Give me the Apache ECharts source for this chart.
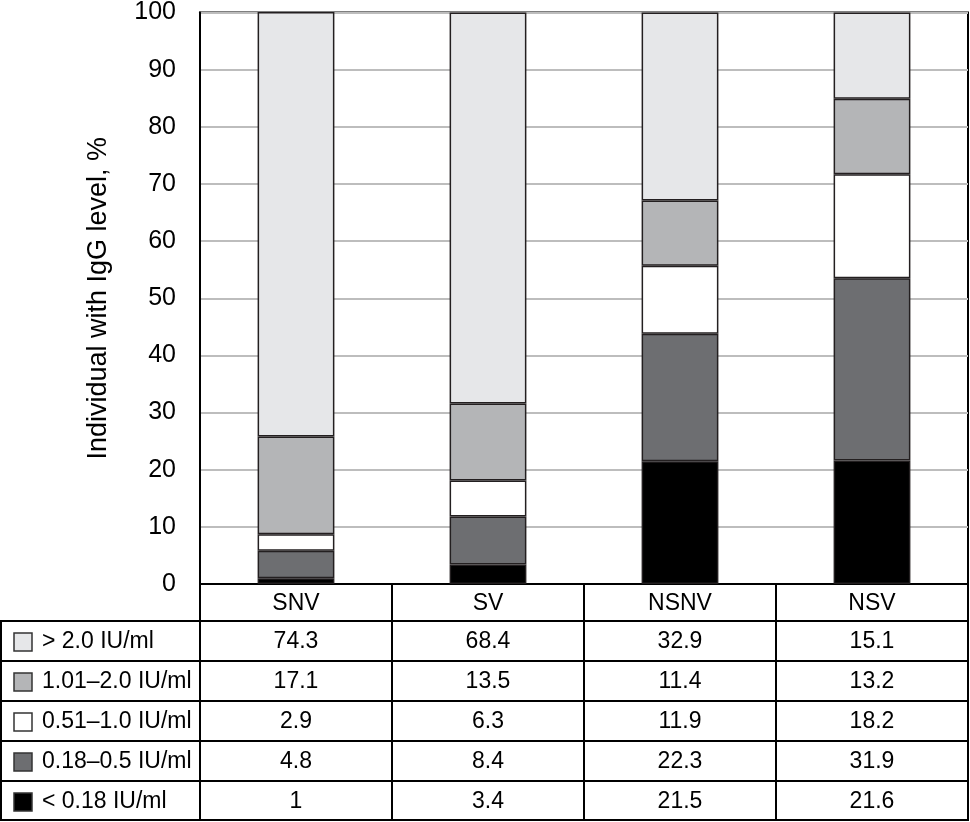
<!DOCTYPE html>
<html>
<head>
<meta charset="utf-8">
<script src="https://cdn.jsdelivr.net/npm/echarts@6/dist/echarts.min.js"></script>
<style>
html,body{margin:0;padding:0;background:#fff;}
#chart{width:970px;height:822px;}
</style>
</head>
<body>
<div id="chart"></div>
<script>
var categories = ['SNV', 'SV', 'NSNV', 'NSV'];
var levels = ['> 2.0 IU/ml', '1.01\u20132.0 IU/ml', '0.51\u20131.0 IU/ml', '0.18\u20130.5 IU/ml', '< 0.18 IU/ml'];
var gt20 = [74.3, 68.4, 32.9, 15.1];
var r101to20 = [17.1, 13.5, 11.4, 13.2];
var r051to10 = [2.9, 6.3, 11.9, 18.2];
var r018to05 = [4.8, 8.4, 22.3, 31.9];
var lt018 = [1, 3.4, 21.5, 21.6];
var yTicks = [0, 10, 20, 30, 40, 50, 60, 70, 80, 90, 100];

var levelValues = [gt20, r101to20, r051to10, r018to05, lt018];
var levelColors = ['#e6e7e9', '#b4b5b7', '#ffffff', '#6d6e71', '#000000'];

var FONT = "'Liberation Sans', Arial, sans-serif";
var gridLeft = 200, gridTop = 11, gridRight = 2, gridBottomY = 584;
var W = 970, H = 822;
var gridWidth = W - gridLeft - gridRight;
var colW = gridWidth / categories.length;
var rowTop = 621, rowH = 40;
var tableBottom = 820;

var chart = echarts.init(document.getElementById('chart'), null, {renderer: 'canvas'});

// series: stack bottom to top
var series = [];
for (var i = levels.length - 1; i >= 0; i--) {
  series.push({
    name: levels[i],
    type: 'bar',
    stack: 'total',
    barWidth: '40%',
    data: levelValues[i],
    itemStyle: {color: levelColors[i], borderColor: '#231f20', borderWidth: 1.5},
    emphasis: {disabled: true}
  });
}

// table graphics
var graphic = [];
var lineStyle = {stroke: '#000', lineWidth: 2};
// horizontal lines
for (var r = 0; r <= levels.length; r++) {
  var y = (r === levels.length) ? tableBottom : rowTop + r * rowH;
  graphic.push({type: 'line', shape: {x1: 0, y1: y, x2: W - gridRight + 1, y2: y}, style: lineStyle});
}
// left border
graphic.push({type: 'line', shape: {x1: 1, y1: rowTop, x2: 1, y2: tableBottom + 1}, style: lineStyle});
// vertical column lines
for (var c = 0; c <= categories.length; c++) {
  var x = gridLeft + c * colW;
  graphic.push({type: 'line', shape: {x1: x, y1: gridBottomY, x2: x, y2: tableBottom + 1}, style: lineStyle});
}
// row labels and values
for (var r2 = 0; r2 < levels.length; r2++) {
  var cy = rowTop + r2 * rowH + rowH / 2 + 1;
  graphic.push({type: 'rect', shape: {x: 14, y: cy - 9, width: 18, height: 18},
    style: {fill: levelColors[r2], stroke: '#333', lineWidth: 1.5}});
  graphic.push({type: 'text', style: {text: levels[r2], x: 42, y: cy, align: 'left', verticalAlign: 'middle',
    font: '23px ' + FONT, fill: '#000'}});
  for (var c2 = 0; c2 < categories.length; c2++) {
    graphic.push({type: 'text', style: {text: String(levelValues[r2][c2]), x: gridLeft + (c2 + 0.5) * colW, y: cy,
      align: 'center', verticalAlign: 'middle', font: '23px ' + FONT, fill: '#000'}});
  }
}

var option = {
  animation: false,
  backgroundColor: '#fff',
  grid: {left: gridLeft, top: gridTop, right: gridRight, bottom: H - gridBottomY,
    show: true, borderColor: '#000', borderWidth: 2, backgroundColor: 'transparent'},
  xAxis: {
    type: 'category',
    data: categories,
    axisLine: {show: true, lineStyle: {color: '#000', width: 2}},
    axisTick: {show: false},
    axisLabel: {fontSize: 23, color: '#000', fontFamily: FONT, margin: 20, verticalAlign: 'middle'},
    splitLine: {show: false}
  },
  yAxis: {
    type: 'value',
    min: yTicks[0],
    max: yTicks[yTicks.length - 1],
    interval: 10,
    name: 'Individual with IgG level, %',
    nameLocation: 'middle',
    nameGap: 88,
    nameTextStyle: {fontSize: 27, color: '#000', fontFamily: FONT},
    axisLine: {show: true, lineStyle: {color: '#000', width: 2}},
    axisTick: {show: false},
    axisLabel: {fontSize: 25, color: '#000', fontFamily: FONT, margin: 24},
    splitLine: {show: true, lineStyle: {color: '#bdbdbd', width: 2}}
  },
  series: series,
  graphic: graphic
};
chart.setOption(option);
</script>
</body>
</html>
